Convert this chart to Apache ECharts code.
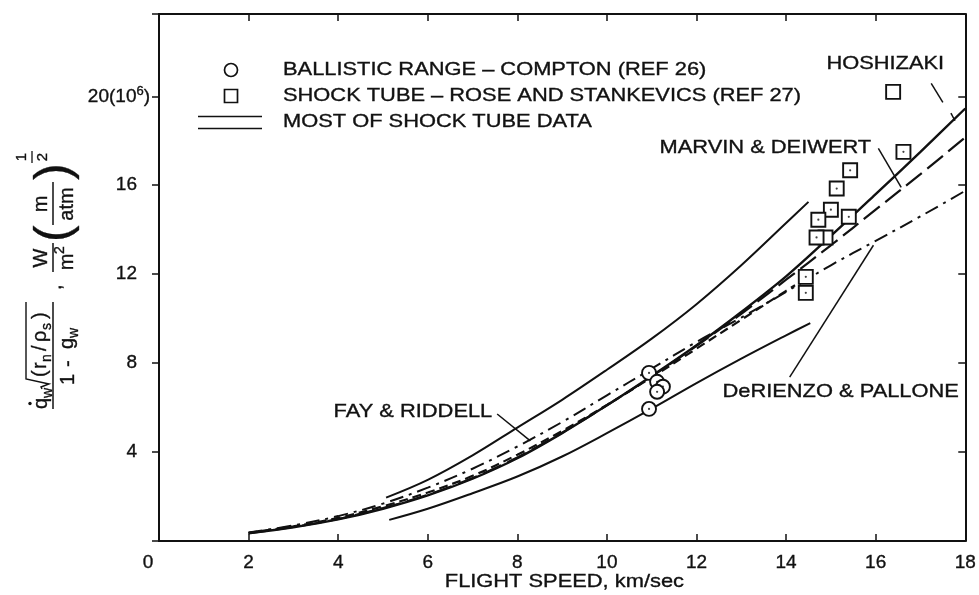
<!DOCTYPE html>
<html>
<head>
<meta charset="utf-8">
<script src="https://cdn.jsdelivr.net/npm/echarts@6/dist/echarts.min.js"></script>
<style>
  html, body { margin: 0; padding: 0; background: #fff; }
  #chart { width: 979px; height: 595px; }
</style>
</head>
<body>
<div id="chart"></div>
<script>
// Flight speed (km/sec) vs. normalised stagnation-point heat transfer, 10^6 units
const xTicks = [0, 2, 4, 6, 8, 10, 12, 14, 16, 18];
const yTicks = [4, 8, 12, 16, 20];

// Band limits that enclose most of the shock tube data
const upperBound = [[5.07,1.95],[6,2.75],[7,3.85],[8,5.1],[9,6.35],[10,7.7],[11,9.1],[12,10.65],[13,12.4],[14,14.3],[14.5,15.25]];
const lowerBound = [[5.14,0.95],[6,1.45],[7,2.15],[8,2.9],[9,3.8],[10,4.85],[11,5.95],[12,7.1],[13,8.2],[14,9.25],[14.54,9.8]];

// Theories
const hoshizaki  = [[2,0.35],[3,0.62],[4,0.97],[5,1.45],[6,2.05],[7,2.8],[8,3.72],[9,4.85],[10,6.1],[11,7.42],[12,8.8],[13,10.3],[14,11.9],[15,13.72],[16,15.6],[17,17.5],[18,19.45]];
const marvinDeiwert = [[2,0.35],[3,0.63],[4,0.99],[5,1.48],[6,2.08],[7,2.83],[8,3.76],[9,4.87],[10,6.1],[11,7.4],[12,8.78],[13,10.22],[14,11.75],[15,13.3],[16,14.9],[17,16.5],[18,18.15]];
const fayRiddell = [[2,0.37],[3,0.66],[4,1.04],[5,1.56],[6,2.18],[7,2.93],[8,3.88],[9,4.95],[10,6.12],[11,7.36],[12,8.65],[13,9.95],[14,11.25],[14.2,11.5]];
const deRienzoPallone = [[2,0.38],[3,0.7],[4,1.12],[5,1.68],[6,2.4],[7,3.25],[8,4.25],[9,5.35],[10,6.55],[11,7.75],[12,8.95],[13,10.05],[14,11.2],[15,12.4],[16,13.5],[17,14.6],[18,15.75]];

// Measurements
const ballisticRange = [[10.94,7.56],[11.12,7.16],[11.25,6.94],[11.12,6.71],[10.94,5.94]];
// [speed, value, centre dot drawn (1) or not (0)]
const shockTube = [[14.88,13.65,0],[16.39,20.2,0],[16.62,17.5,1],[15.43,16.67,1],[15.13,15.85,1],[15.0,14.9,1],[14.72,14.45,1],[15.4,14.58,1],[14.68,13.65,1],[14.44,11.88,1],[14.44,11.16,1]];

// Curve labels: text, anchor [speed, value], alignment, leader segments in data units
const curveNotes = [
  { text: 'HOSHIZAKI', at: [14.9, 21.45], align: 'left',
    leaders: [[[17.24,20.58],[17.5,19.73]], [[17.68,19.24],[17.77,18.9]]] },
  { text: 'MARVIN & DEIWERT', at: [15.9, 17.7], align: 'right',
    leaders: [[[16.06,17.66],[16.57,15.9]]] },
  { text: 'DeRIENZO & PALLONE', at: [12.58, 6.7], align: 'left',
    leaders: [[[14.08,7.37],[15.95,13.3]]] },
  { text: 'FAY & RIDDELL', at: [7.44, 5.8], align: 'right',
    leaders: [[[7.55,5.71],[8.29,4.5]]] }
];

const legendRows = [
  'BALLISTIC RANGE \u2013 COMPTON (REF 26)',
  'SHOCK TUBE \u2013 ROSE AND STANKEVICS (REF 27)',
  'MOST OF SHOCK TUBE DATA'
];
const xTitle = 'FLIGHT SPEED, km/sec';

const FONT = 'Liberation Sans';
const INK = '#111';
const STRETCH = 1.15;
const TXT = 19;

const chart = echarts.init(document.getElementById('chart'), null, { renderer: 'canvas' });

function lineSeries(name, data, width, dash) {
  return {
    name, type: 'line', data, smooth: 0.35, symbol: 'none', silent: true,
    xAxisIndex: 0, yAxisIndex: 0,
    lineStyle: { color: INK, width, type: dash || 'solid', cap: 'butt' },
    z: 3
  };
}

const labelInk = { color: INK, fontFamily: FONT, textBorderColor: INK, textBorderWidth: 0.35 };

const option = {
  backgroundColor: '#fff',
  animation: false,
  grid: { left: 159, right: 11, top: 14, bottom: 54, containLabel: false },
  xAxis: [
    {
      type: 'value', min: 0, max: 18, interval: 2, position: 'bottom',
      axisLine: { onZero: false, lineStyle: { color: INK, width: 2 } },
      axisTick: { inside: true, length: 7, lineStyle: { color: INK, width: 1.5 } },
      splitLine: { show: false },
      axisLabel: Object.assign({
        fontSize: TXT, margin: 12,
        formatter: v => (xTicks.indexOf(v) < 0 ? '' : (v === 0 ? '{z|0}' : String(v))),
        rich: { z: Object.assign({ fontSize: TXT, padding: [0, 22, 0, 0] }, labelInk) }
      }, labelInk)
    },
    {
      type: 'value', min: 0, max: 18, interval: 2, position: 'top',
      axisLine: { onZero: false, lineStyle: { color: INK, width: 2 } },
      axisTick: { inside: true, length: 7, lineStyle: { color: INK, width: 1.5 } },
      axisLabel: { show: false }, splitLine: { show: false }
    }
  ],
  yAxis: [
    {
      type: 'value', min: 0, max: 23.7, interval: 4, position: 'left',
      axisLine: { onZero: false, lineStyle: { color: INK, width: 2 } },
      axisTick: { inside: false, length: 7, lineStyle: { color: INK, width: 1.5 } },
      splitLine: { show: false },
      axisLabel: Object.assign({
        fontSize: TXT, margin: 9,
        formatter: v => {
          if (yTicks.indexOf(v) < 0) return '';
          return v === 20 ? '{a|20(10}{s|6}{a|)}' : '{n|' + v + '}';
        },
        rich: {
          n: Object.assign({ fontSize: TXT, padding: [0, 13, 0, 0] }, labelInk),
          a: Object.assign({ fontSize: TXT }, labelInk),
          s: Object.assign({ fontSize: 13, verticalAlign: 'top', padding: [0, 0, 9, 0] }, labelInk)
        }
      }, labelInk)
    },
    {
      type: 'value', min: 0, max: 23.7, interval: 4, position: 'right',
      axisLine: { onZero: false, lineStyle: { color: INK, width: 2 } },
      axisTick: { inside: true, length: 7, lineStyle: { color: INK, width: 1.5 } },
      axisLabel: { show: false }, splitLine: { show: false }
    }
  ],
  series: [
    lineSeries('Upper limit', upperBound, 2),
    lineSeries('Lower limit', lowerBound, 2),
    lineSeries('Hoshizaki', hoshizaki, 2.4),
    lineSeries('Marvin & Deiwert', marvinDeiwert, 2.2, [20, 7]),
    lineSeries('Fay & Riddell', fayRiddell, 2.2, [9, 5]),
    lineSeries('DeRienzo & Pallone', deRienzoPallone, 2, [14, 6, 3, 6]),
    {
      name: 'Ballistic range', type: 'scatter', data: ballisticRange,
      symbol: 'circle', symbolSize: 14, silent: true,
      itemStyle: { color: '#fff', borderColor: INK, borderWidth: 1.9, opacity: 1 }, z: 5
    },
    {
      name: 'Shock tube', type: 'scatter', data: shockTube.map(p => [p[0], p[1]]),
      symbol: 'rect', symbolSize: 14, silent: true,
      itemStyle: { color: '#fff', borderColor: INK, borderWidth: 1.9, opacity: 1 }, z: 5
    },
    {
      name: 'Centre dots', type: 'scatter', silent: true,
      data: ballisticRange.concat(shockTube.filter(p => p[2] === 1).map(p => [p[0], p[1]])),
      symbol: 'circle', symbolSize: 2.2,
      itemStyle: { color: INK }, z: 6
    }
  ]
};

chart.setOption(option);

// ---- annotation layer: legend, curve labels, axis titles ----
const g = [];

function txt(text, x, y, opts) {
  opts = opts || {};
  return {
    type: 'text', x, y, scaleX: opts.scaleX || 1, silent: true, z: 10,
    style: {
      text, fill: INK, fontFamily: FONT, fontSize: opts.size || TXT,
      stroke: INK, lineWidth: 0.35,
      align: opts.align || 'left', verticalAlign: opts.valign || 'middle'
    }
  };
}
function seg(x1, y1, x2, y2, w) {
  return { type: 'line', silent: true, z: 10,
    shape: { x1, y1, x2, y2 }, style: { stroke: INK, lineWidth: w || 1.5 } };
}

// Legend
const legX = 283, legRows = [70, 96, 122];
g.push({ type: 'circle', shape: { cx: 231, cy: legRows[0], r: 6.5 }, style: { fill: '#fff', stroke: INK, lineWidth: 1.7 }, z: 10, silent: true });
g.push({ type: 'rect', shape: { x: 224.5, y: legRows[1] - 6.5, width: 13, height: 13 }, style: { fill: '#fff', stroke: INK, lineWidth: 1.7 }, z: 10, silent: true });
g.push(seg(198, 116.5, 262, 116.5, 1.6));
g.push(seg(198, 128.5, 262, 128.5, 1.6));
legendRows.forEach((t, i) => g.push(txt(t, legX, legRows[i], { scaleX: STRETCH })));

// Curve labels with leader lines
curveNotes.forEach(n => {
  const p = chart.convertToPixel({ gridIndex: 0 }, n.at);
  g.push(txt(n.text, p[0], p[1], { align: n.align, scaleX: STRETCH }));
  n.leaders.forEach(l => {
    const a = chart.convertToPixel({ gridIndex: 0 }, l[0]);
    const b = chart.convertToPixel({ gridIndex: 0 }, l[1]);
    g.push(seg(a[0], a[1], b[0], b[1], 1.5));
  });
});

// X-axis title, centred a little left of mid-axis
const tp = chart.convertToPixel({ gridIndex: 0 }, [9.05, 0]);
g.push(txt(xTitle, tp[0], 582, { align: 'center', scaleX: STRETCH }));

// Y-axis title, laid out left-to-right then turned to read upwards.
// u runs along the reading direction, v across it (negative = above the main bar).
const yt = [];
function t(s, u, v, size, align) {
  yt.push({ type: 'text', x: u, y: v, silent: true,
    style: { text: s, fill: INK, stroke: INK, lineWidth: 0.35, fontFamily: FONT, fontSize: size || 20, align: align || 'left', verticalAlign: 'middle' } });
}
function l(u1, v1, u2, v2, w) {
  yt.push({ type: 'line', silent: true, shape: { x1: u1, y1: v1, x2: u2, y2: v2 }, style: { stroke: INK, lineWidth: w || 1.5 } });
}
// numerator: q-dot_w sqrt((r_n / rho_s))
t('q', 0, -12);
yt.push({ type: 'circle', silent: true, shape: { cx: 5.5, cy: -23, r: 1.7 }, style: { fill: INK } });
t('w', 11, -5, 14);
yt.push({ type: 'polyline', silent: true, shape: { points: [[20, -11], [22, -12], [25, -4], [30, -27], [107, -27]] }, style: { stroke: INK, lineWidth: 1.4, fill: null } });
t('(', 32, -13); t('r', 40, -13); t('n', 47, -6, 14); t('/', 58, -13); t('\u03c1', 67, -13); t('s', 79, -6, 14); t(')', 90, -13);
l(0, 0, 107, 0);
// denominator: 1 - g_w
t('1', 24, 15); t('-', 42, 15); t('g', 60, 14); t('w', 71, 21, 14);
t(',', 119, 2);
// W / m^2
t('W', 151, -12, 20, 'center'); l(137, 0, 166, 0); t('m', 147, 14, 20, 'center'); t('2', 159, 7, 14, 'center');
// (m / atm)^(1/2)
t('(', 167, 2, 50); t(')', 229, 2, 50);
t('m', 205, -12, 20, 'center'); l(184, 0, 227, 0); t('atm', 205, 14, 20, 'center');
t('1', 252, -31, 15, 'center'); l(246, -21, 258, -21, 1.3); t('2', 252, -10, 15, 'center');

g.push({ type: 'group', x: 53, y: 409, rotation: Math.PI / 2, children: yt, z: 10, silent: true });

chart.setOption({ graphic: { elements: g } });
</script>
</body>
</html>
